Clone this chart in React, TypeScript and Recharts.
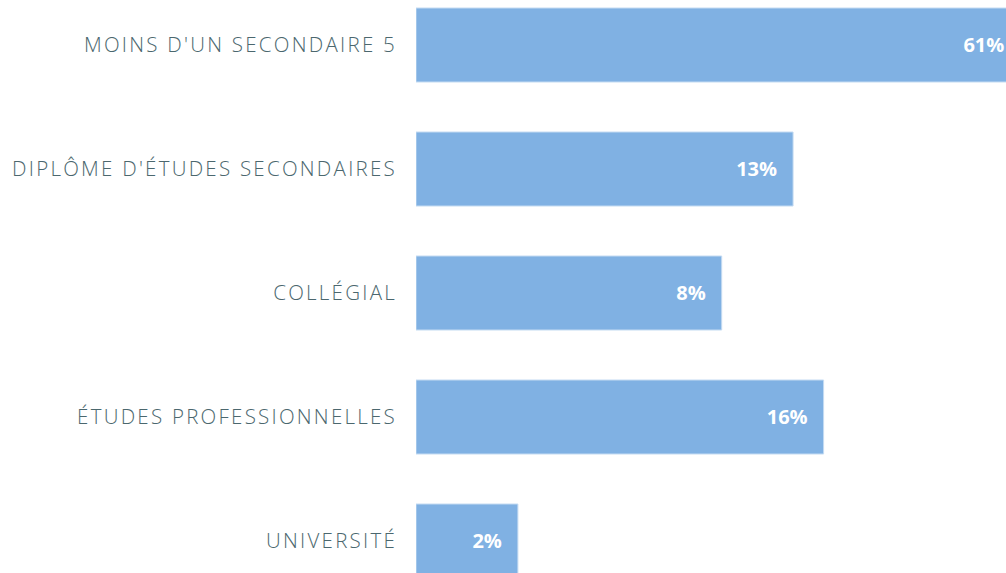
import React from "react";
import { BarChart, Bar, XAxis, YAxis, LabelList } from "recharts";

const categories = [
  "MOINS D'UN SECONDAIRE 5",
  "DIPLÔME D'ÉTUDES SECONDAIRES",
  "COLLÉGIAL",
  "ÉTUDES PROFESSIONNELLES",
  "UNIVERSITÉ",
];
const values = [61, 13, 8, 16, 2];
const valueLabels = ["61%", "13%", "8%", "16%", "2%"];

const data = categories.map((c, i) => ({ name: c, value: values[i], label: valueLabels[i] }));

export default function App() {
  return (
    <div style={{ position: "absolute", top: 0, left: 0, width: 1006, height: 573, overflow: "hidden", background: "#fff" }}>
      <div style={{ position: "absolute", top: -17, left: 0 }}>
        <BarChart
          width={1093}
          height={620}
          data={data}
          layout="vertical"
          margin={{ top: 0, right: 0, bottom: 0, left: 0 }}
          barSize={74}
        >
          <XAxis type="number" scale="log" domain={[1, 100]} hide allowDataOverflow />
          <YAxis
            type="category"
            dataKey="name"
            width={416}
            axisLine={false}
            tickLine={false}
            tickSize={0}
            tickMargin={19}
            tick={{ fill: "#4b676e", fontSize: 20.5, fontFamily: "'Open Sans', sans-serif", fontWeight: 300, letterSpacing: 2.25 }}
          />
          <Bar dataKey="value" fill="#80b1e3" stroke="#c4dbf2" strokeWidth={1} isAnimationActive={false}>
            <LabelList
              dataKey="label"
              position="insideRight"
              offset={16}
              fill="#ffffff"
              style={{ fontSize: 20, fontWeight: 700, fontFamily: "'Open Sans', sans-serif" }}
            />
          </Bar>
        </BarChart>
      </div>
    </div>
  );
}
